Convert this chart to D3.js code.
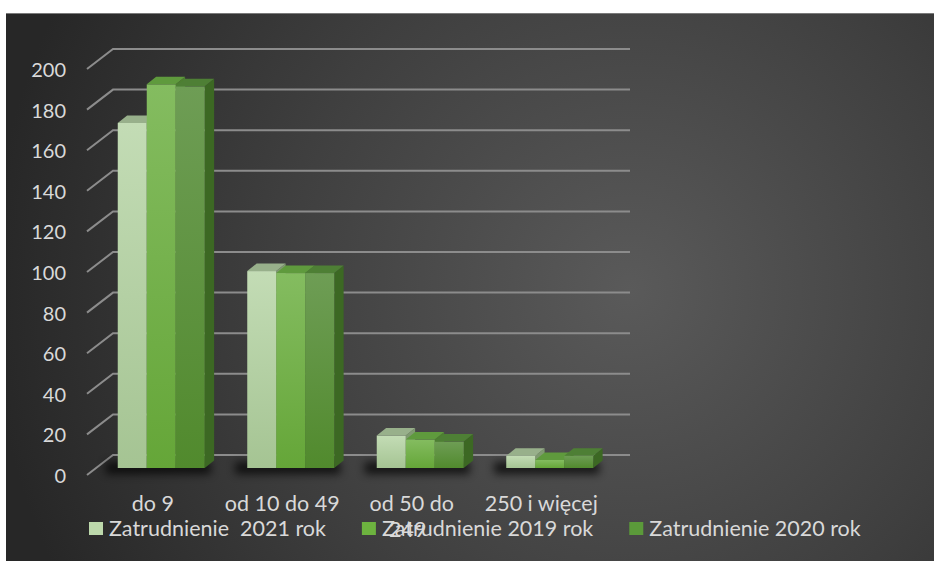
<!DOCTYPE html>
<html lang="pl">
<head>
  <meta charset="UTF-8">
  <title>zatrudnienie</title>
  <script src="https://cdn.jsdelivr.net/npm/d3@7/dist/d3.min.js"></script>
</head>
<body>
<style>
  * {
    padding: 0;
    margin: 0;
  }
  body {
    background: #fff;
  }
  text {
    font-family: Lato, "Open Sans", sans-serif;
    fill: #d9d9d9;
  }
</style>

<div id="app"></div>

<script>
  // data
  let categories = ["do 9", "od 10 do 49", "od 50 do 249", "250 i więcej"];
  let seriesNames = ["Zatrudnienie  2021 rok", "Zatrudnienie 2019 rok", "Zatrudnienie 2020 rok"];
  let values2021 = [170, 97, 16, 6];
  let values2019 = [189, 96, 14, 4];
  let values2020 = [188, 96, 13, 6];
  let yTicks = [0, 20, 40, 60, 80, 100, 120, 140, 160, 180, 200];

  let seriesValues = [values2021, values2019, values2020];

  // colours per series: front top, front bottom, top face, side face, legend
  let colors = [
    {hi: "#c3dcb5", lo: "#a5c493", top: "#98b08b", side: "#7f9a70", key: "#bcd8ab"},
    {hi: "#84bc60", lo: "#65a638", top: "#5f9a3d", side: "#4d8030", key: "#6db33f"},
    {hi: "#6e9d55", lo: "#518a2d", top: "#4e7f35", side: "#3c6823", key: "#5b9a3a"}
  ];

  let $width = 934, $height = 561;
  let DX = 25, DY = -20;        // floor depth, front -> back
  let barFront = 0.35, barDepth = 0.375;

  let svg = d3.select("#app").append("svg").attr("width", $width).attr("height", $height);
  let defs = svg.append("defs");

  let bg = defs.append("radialGradient").attr("id", "bg")
    .attr("gradientUnits", "userSpaceOnUse")
    .attr("cx", 630).attr("cy", 290).attr("r", 640);
  bg.append("stop").attr("offset", "0").attr("stop-color", "#5a5a5a");
  bg.append("stop").attr("offset", "0.55").attr("stop-color", "#3f3f3f");
  bg.append("stop").attr("offset", "1").attr("stop-color", "#272727");

  colors.forEach(function (c, i) {
    let g = defs.append("linearGradient").attr("id", "front" + i)
      .attr("x1", 0).attr("y1", 0).attr("x2", 0).attr("y2", 1);
    g.append("stop").attr("offset", 0).attr("stop-color", c.hi);
    g.append("stop").attr("offset", 1).attr("stop-color", c.lo);
  });

  defs.append("filter").attr("id", "blur").attr("x", "-20%").attr("y", "-100%")
    .attr("width", "140%").attr("height", "300%")
    .append("feGaussianBlur").attr("stdDeviation", 4);

  svg.append("rect").attr("x", 6).attr("y", 13).attr("width", $width - 6).attr("height", $height - 13)
    .attr("fill", "url(#bg)");
  svg.append("line").attr("x1", 6).attr("x2", $width).attr("y1", 13.5).attr("y2", 13.5)
    .attr("stroke", "#7a7a7a").attr("stroke-width", 1);

  // scales (front plane of the floor)
  let x0 = d3.scaleBand().domain(categories).range([88, 606]);
  let x1 = d3.scaleBand().domain(d3.range(3)).range([21, 108]);
  let y = d3.scaleLinear().domain([0, 200]).range([475, 69]);

  // gridlines: slanted side wall + back wall
  let grid = svg.append("g");
  yTicks.forEach(function (t) {
    grid.append("path")
      .attr("d", "M" + 87 + "," + y(t) + " L" + (88 + DX) + "," + (y(t) + DY) + " L630," + (y(t) + DY))
      .attr("fill", "none").attr("stroke", "#8c8c8c").attr("stroke-width", 2);
  });

  // y axis labels
  let yAxis = d3.axisLeft(y).tickValues(yTicks).tickSize(0).tickPadding(0);
  let ya = svg.append("g").attr("transform", "translate(66,1)").call(yAxis);
  ya.select(".domain").remove();
  ya.selectAll("text").attr("font-size", "20px").attr("fill", "#d9d9d9")
    .style("font-family", "Lato, sans-serif");

  // shadows under groups
  let ox = barFront * DX, oy = barFront * DY;
  let bx = barDepth * DX, by = barDepth * DY;
  categories.forEach(function (c) {
    svg.append("rect")
      .attr("x", x0(c) + x1(0) + ox - 12).attr("y", y(0) + oy - 6)
      .attr("width", x1.bandwidth() * 3 + 18).attr("height", 12)
      .attr("fill", "#000").attr("opacity", 0.7).attr("filter", "url(#blur)");
  });

  // bars
  let bars = [];
  categories.forEach(function (c, ci) {
    seriesValues.forEach(function (vals, si) {
      bars.push({cat: c, s: si, v: vals[ci]});
    });
  });

  let bar = svg.selectAll("g.bar").data(bars).enter().append("g").attr("class", "bar");
  bar.each(function (d) {
    let g = d3.select(this);
    let x = x0(d.cat) + x1(d.s) + ox;
    let w = x1.bandwidth();
    let yb = y(0) + oy, yt = y(d.v) + oy;
    let col = colors[d.s];
    g.append("path")
      .attr("d", "M" + (x + w) + "," + yb + " L" + (x + w + bx) + "," + (yb + by) +
        " L" + (x + w + bx) + "," + (yt + by) + " L" + (x + w) + "," + yt + "Z")
      .attr("fill", col.side);
    g.append("rect").attr("x", x).attr("y", yt).attr("width", w).attr("height", yb - yt)
      .attr("fill", "url(#front" + d.s + ")");
    g.append("path")
      .attr("d", "M" + x + "," + yt + " L" + (x + w) + "," + yt + " L" + (x + w + bx) + "," + (yt + by) +
        " L" + (x + bx) + "," + (yt + by) + "Z")
      .attr("fill", col.top);
  });

  // category labels
  let xl = svg.append("g");
  categories.forEach(function (c) {
    let cx = x0(c) + x0.bandwidth() / 2;
    let t = xl.append("text").attr("x", cx).attr("y", 511)
      .attr("text-anchor", "middle").attr("font-size", "21.5px");
    let words = c.split(" "), line = [];
    let ts = t.append("tspan").attr("x", cx);
    words.forEach(function (w) {
      line.push(w);
      ts.text(line.join(" "));
      if (ts.node().getComputedTextLength() > 120 && line.length > 1) {
        line.pop();
        ts.text(line.join(" "));
        line = [w];
        ts = t.append("tspan").attr("x", cx - 4).attr("dy", 26).text(w);
      }
    });
  });

  // legend
  let lx = 89;
  let legend = svg.append("g");
  seriesNames.forEach(function (name, i) {
    legend.append("rect").attr("x", lx).attr("y", 522).attr("width", 14).attr("height", 13)
      .attr("fill", colors[i].key);
    let t = legend.append("text").attr("x", lx + 20).attr("y", 536)
      .attr("font-size", "21.5px").style("white-space", "pre").text(name);
    lx = lx + 20 + t.node().getComputedTextLength() + 36;
  });
</script>
</body>
</html>
